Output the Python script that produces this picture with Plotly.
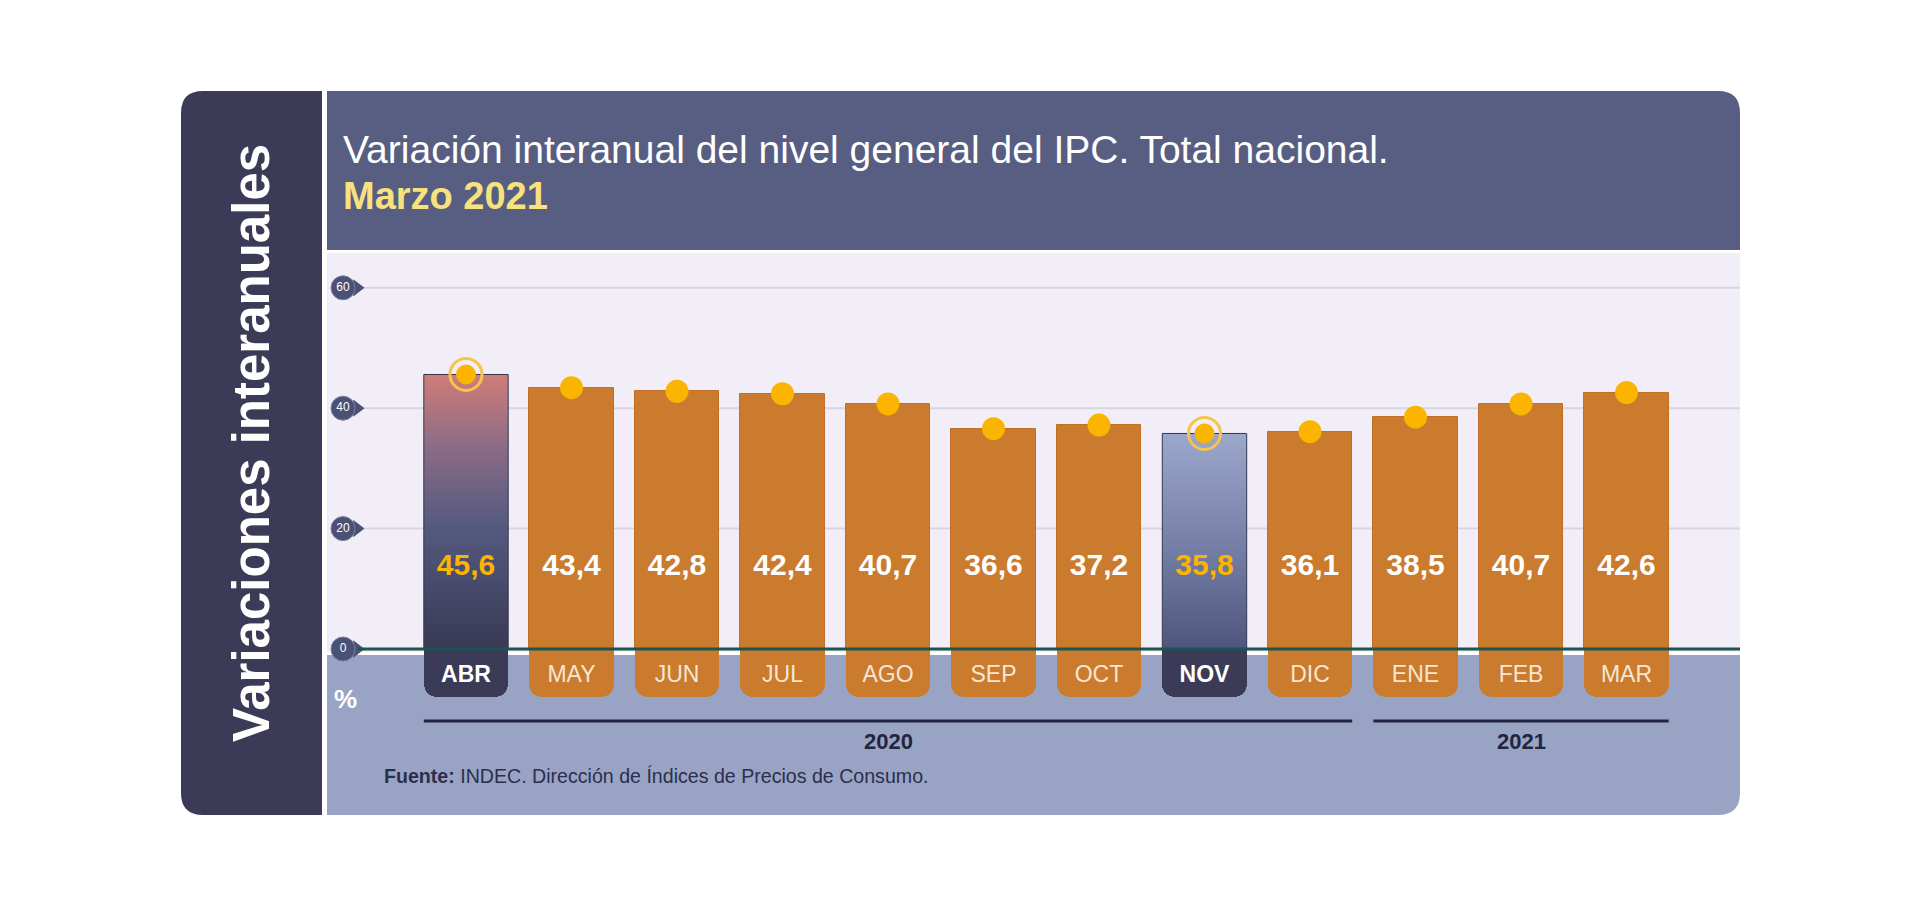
import plotly.graph_objects as go

# ---------------- data ----------------
months = ["ABR", "MAY", "JUN", "JUL", "AGO", "SEP", "OCT", "NOV", "DIC", "ENE", "FEB", "MAR"]
values = [45.6, 43.4, 42.8, 42.4, 40.7, 36.6, 37.2, 35.8, 36.1, 38.5, 40.7, 42.6]
highlight = ["ABR", "NOV"]
years = ["2020", "2021"]
year_first = ["ABR", "ENE"]
year_last = ["DIC", "MAR"]
y_ticks = [0, 20, 40, 60]

title_text = "Variación interanual del nivel general del IPC. Total nacional."
subtitle_text = "Marzo 2021"
side_text = "Variaciones interanuales"
source_text = "<b>Fuente:</b> INDEC. Dirección de Índices de Precios de Consumo."

# ---------------- geometry helpers (pixel <-> axes) ----------------
W, H = 1920, 903
ZERO_PX, PX_PER_UNIT = 649, 6.02
X0_PX, STEP_PX = 466, 105.5
BAR_W = 0.8


def dx(px):
    return (px - X0_PX) / STEP_PX


def dy(py):
    return (ZERO_PX - py) / PX_PER_UNIT


def paper_x(px):
    return px / W


def paper_y(py):
    return 1 - py / H


def rounded_path(x0, y0, x1, y1, tl=0, tr=0, br=0, bl=0):
    """Rounded rectangle in pixel coords, output as paper-coord SVG path."""
    def P(x, y):
        return f"{paper_x(x):.6f},{paper_y(y):.6f}"
    p = f"M{P(x0 + tl, y0)} L{P(x1 - tr, y0)} "
    if tr:
        p += f"Q{P(x1, y0)} {P(x1, y0 + tr)} "
    p += f"L{P(x1, y1 - br)} "
    if br:
        p += f"Q{P(x1, y1)} {P(x1 - br, y1)} "
    p += f"L{P(x0 + bl, y1)} "
    if bl:
        p += f"Q{P(x0, y1)} {P(x0, y1 - bl)} "
    p += f"L{P(x0, y0 + tl)} "
    if tl:
        p += f"Q{P(x0, y0)} {P(x0 + tl, y0)} "
    return p + "Z"


# ---------------- colours ----------------
C_DARK = "#3c3b57"
C_HEADER = "#575e82"
C_PLOT = "#f2eef8"
C_BAND = "#99a4c5"
C_ORANGE = "#ca7b2e"
C_DOT = "#fbb400"
C_RING = "#f7c44c"
C_GRID = "#d9d4e1"
C_ZERO = "#1c5452"
C_YEAR = "#23243f"
FONT = "Liberation Sans, Arial, sans-serif"

xs = list(range(len(months)))
is_hi = [m in highlight for m in months]

fig = go.Figure()

# month tabs (bars hanging below zero): rounded bottom + square top part
tab_bot = dy(697)
tab_colors = [C_DARK if h else C_ORANGE for h in is_hi]
fig.add_trace(go.Bar(
    x=xs, y=[tab_bot] * len(xs), base=[0] * len(xs), width=BAR_W,
    marker=dict(color=tab_colors, cornerradius=13, line=dict(width=0)),
    hoverinfo="skip", showlegend=False,
))
fig.add_trace(go.Bar(
    x=xs, y=[tab_bot / 2] * len(xs), base=[0] * len(xs), width=BAR_W,
    marker=dict(color=tab_colors, line=dict(width=0)),
    hoverinfo="skip", showlegend=False,
))

# orange bars
fig.add_trace(go.Bar(
    x=xs, y=values, width=BAR_W,
    marker=dict(color=["rgba(0,0,0,0)" if h else C_ORANGE for h in is_hi],
                line=dict(width=[0 if h else 1 for h in is_hi], color="#bf6f26")),
    hoverinfo="skip", showlegend=False,
))

# gradient bars for highlighted months
grad_scales = {
    "ABR": [[0, "#393955"], [0.45, "#545a7f"], [0.75, "#8f6c87"], [1, "#d07d77"]],
    "NOV": [[0, "#4f567d"], [0.6, "#7f89b0"], [1, "#9ca7cc"]],
}
for i, (m, v) in enumerate(zip(months, values)):
    if m in highlight:
        fig.add_trace(go.Scatter(
            x=[i - BAR_W / 2, i + BAR_W / 2, i + BAR_W / 2, i - BAR_W / 2, i - BAR_W / 2],
            y=[0, 0, v, v, 0], mode="lines", fill="toself",
            line=dict(width=1, color="#36364f"),
            fillgradient=dict(type="vertical", colorscale=grad_scales[m]),
            hoverinfo="skip", showlegend=False,
        ))

# month labels
for bold, col in [(False, "#f8e6d2"), (True, "#ffffff")]:
    idx = [i for i in xs if is_hi[i] == bold]
    fig.add_trace(go.Scatter(
        x=idx, y=[dy(676)] * len(idx), mode="text",
        text=[f"<b>{months[i]}</b>" if bold else months[i] for i in idx],
        textfont=dict(family=FONT, size=23, color=col),
        hoverinfo="skip", showlegend=False,
    ))

# value labels inside bars
fig.add_trace(go.Scatter(
    x=xs, y=[dy(567)] * len(xs), mode="text",
    text=[f"<b>{v:.1f}</b>".replace(".", ",") for v in values],
    textfont=dict(family=FONT, size=30, color=[C_DOT if h else "#ffffff" for h in is_hi]),
    hoverinfo="skip", showlegend=False,
))

# rings around highlighted dots
hi_idx = [i for i in xs if is_hi[i]]
fig.add_trace(go.Scatter(
    x=hi_idx, y=[values[i] for i in hi_idx], mode="markers",
    marker=dict(symbol="circle-open", size=32, color=C_RING, line=dict(width=3, color=C_RING)),
    hoverinfo="skip", showlegend=False,
))
# dots on bar tops
fig.add_trace(go.Scatter(
    x=xs, y=values, mode="markers",
    marker=dict(symbol="circle", size=[20 if h else 23 for h in is_hi], color=C_DOT,
                opacity=1, line=dict(width=0)),
    hoverinfo="skip", showlegend=False,
))

# y tick badges (teardrop-like)
fig.add_trace(go.Scatter(
    x=[dx(357)] * len(y_ticks), y=y_ticks, mode="markers",
    marker=dict(symbol="triangle-right", size=15, color="#4b5075", line=dict(width=0)),
    hoverinfo="skip", showlegend=False,
))
fig.add_trace(go.Scatter(
    x=[dx(343)] * len(y_ticks), y=y_ticks, mode="markers+text",
    text=[str(t) for t in y_ticks], textposition="middle center",
    textfont=dict(family=FONT, size=12, color="#ffffff"),
    marker=dict(symbol="circle", size=24, color="#4b5075", line=dict(width=1, color="#7a7f9f")),
    hoverinfo="skip", showlegend=False,
))

# ---------------- shapes ----------------
shapes = [
    dict(type="path", path=rounded_path(181, 91, 322, 815, tl=22, bl=22),
         xref="paper", yref="paper", fillcolor=C_DARK, line=dict(width=0), layer="below"),
    dict(type="path", path=rounded_path(327, 91, 1740, 250, tr=22),
         xref="paper", yref="paper", fillcolor=C_HEADER, line=dict(width=0), layer="below"),
    dict(type="rect", x0=paper_x(327), x1=paper_x(1740), y0=paper_y(652), y1=paper_y(253),
         xref="paper", yref="paper", fillcolor=C_PLOT, line=dict(width=0), layer="below"),
    dict(type="path", path=rounded_path(327, 655, 1740, 815, br=22),
         xref="paper", yref="paper", fillcolor=C_BAND, line=dict(width=0), layer="below"),
]
for t in y_ticks[1:]:
    shapes.append(dict(type="line", xref="paper", yref="y", x0=paper_x(360), x1=paper_x(1740),
                       y0=t, y1=t, line=dict(color=C_GRID, width=2), layer="below"))
shapes.append(dict(type="line", xref="paper", yref="y", x0=paper_x(358), x1=paper_x(1740),
                   y0=0, y1=0, line=dict(color=C_ZERO, width=3), layer="above"))
for yr, a, b in zip(years, year_first, year_last):
    i0, i1 = months.index(a), months.index(b)
    shapes.append(dict(type="line", xref="x", yref="y", x0=i0 - BAR_W / 2, x1=i1 + BAR_W / 2,
                       y0=dy(721), y1=dy(721), line=dict(color=C_YEAR, width=3)))

# ---------------- annotations ----------------
ann = [
    dict(text=title_text, x=paper_x(341), y=paper_y(149), xref="paper", yref="paper",
         xanchor="left", yanchor="middle", showarrow=False,
         font=dict(family=FONT, size=39, color="#ffffff")),
    dict(text=f"<b>{subtitle_text}</b>", x=paper_x(341), y=paper_y(196), xref="paper", yref="paper",
         xanchor="left", yanchor="middle", showarrow=False,
         font=dict(family=FONT, size=38, color="#f7e27e")),
    dict(text=f"<b>{side_text}</b>", x=paper_x(252), y=paper_y(443), xref="paper", yref="paper",
         xanchor="center", yanchor="middle", textangle=-90, showarrow=False,
         font=dict(family=FONT, size=51, color="#ffffff")),
    dict(text="<b>%</b>", x=paper_x(345), y=paper_y(699), xref="paper", yref="paper",
         xanchor="center", yanchor="middle", showarrow=False,
         font=dict(family=FONT, size=26, color="#ffffff")),
    dict(text=source_text, x=paper_x(382), y=paper_y(776), xref="paper", yref="paper",
         xanchor="left", yanchor="middle", showarrow=False,
         font=dict(family=FONT, size=19.6, color="#2c2e4e")),
]
for yr, a, b in zip(years, year_first, year_last):
    i0, i1 = months.index(a), months.index(b)
    ann.append(dict(text=f"<b>{yr}</b>", x=(i0 + i1) / 2, y=dy(741), xref="x", yref="y",
                    xanchor="center", yanchor="middle", showarrow=False,
                    font=dict(family=FONT, size=22, color=C_YEAR)))

fig.update_layout(
    width=W, height=H, margin=dict(l=0, r=0, t=0, b=0, pad=0),
    paper_bgcolor="#ffffff", plot_bgcolor="rgba(0,0,0,0)",
    barmode="overlay", bargap=0,
    xaxis=dict(range=[dx(0), dx(W)], visible=False, fixedrange=True),
    yaxis=dict(range=[dy(H), dy(0)], visible=False, fixedrange=True),
    shapes=shapes, annotations=ann, showlegend=False,
    font=dict(family=FONT),
)

fig.write_html("out.html", config={"displayModeBar": False},
               post_script="document.body.style.margin='0';document.body.style.overflow='hidden';")
